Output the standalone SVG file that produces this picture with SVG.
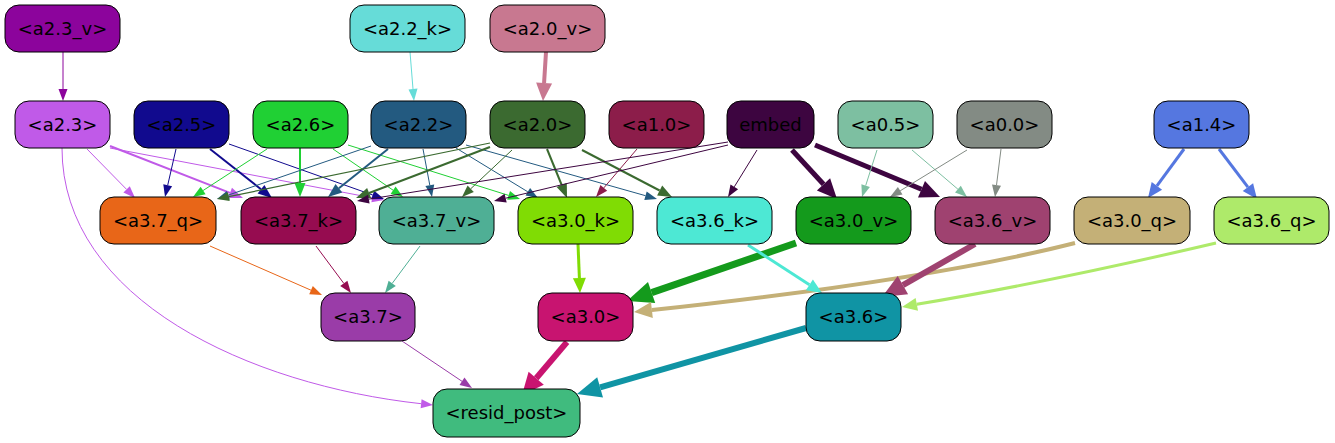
<svg xmlns="http://www.w3.org/2000/svg" width="1335" height="443" viewBox="0 0 1335 443">
<style>
.n rect{stroke:#000;stroke-width:1}
.n text{font-family:"DejaVu Sans",Verdana,sans-serif;font-size:18px;text-anchor:middle;fill:#000}
.e path{fill:none}
</style>
<rect width="1335" height="443" fill="#fff"/>
<g id="connectors">
<g class="e">
<path d="M63,52 L63,89" stroke="#8c049c" stroke-width="1"/><polygon points="63,101 67.5,89 58.5,89" fill="#8c049c"/>
<path d="M410,52 L413,89" stroke="#66dcd8" stroke-width="1"/><polygon points="414,101 408.5,89.4 417.5,88.6" fill="#66dcd8"/>
<path d="M546,52 L544.1,83" stroke="#c87890" stroke-width="4"/><polygon points="543,101 536.1,82.5 552.1,83.5" fill="#c87890"/>

<path d="M87,149 L126.6,189.4" stroke="#c05ae8" stroke-width="1"/><polygon points="135,198 123.4,192.6 129.8,186.3" fill="#c05ae8"/>
<path d="M110,146 L230,192.9" stroke="#c05ae8" stroke-width="2"/><polygon points="243,198 228,198 232,187.8" fill="#c05ae8"/>
<path d="M110,148 L372.2,197.8" stroke="#c05ae8" stroke-width="1"/><polygon points="384,200 371.4,202.2 373,193.4" fill="#c05ae8"/>
<path d="M62,148 C62,300 250,385 421.1,403.7" stroke="#c05ae8" stroke-width="1"/><polygon points="433,405 420.6,408.2 421.6,399.2" fill="#c05ae8"/>

<path d="M176,149 L167.7,185.3" stroke="#110a8e" stroke-width="1"/><polygon points="165,197 163.3,184.3 172.1,186.3" fill="#110a8e"/>
<path d="M210,149 L261,189.3" stroke="#110a8e" stroke-width="2"/><polygon points="272,198 257.6,193.6 264.4,185" fill="#110a8e"/>
<path d="M229,144 L372.7,195" stroke="#110a8e" stroke-width="1"/><polygon points="384,199 371.2,199.2 374.2,190.8" fill="#110a8e"/>

<path d="M267,149 L203.1,190.5" stroke="#20d034" stroke-width="1"/><polygon points="193,197 200.6,186.7 205.6,194.3" fill="#20d034"/>
<path d="M300,148 L300,183" stroke="#20d034" stroke-width="2"/><polygon points="300,197 305.5,183 294.5,183" fill="#20d034"/>
<path d="M333,149 L393.1,190.2" stroke="#20d034" stroke-width="1"/><polygon points="403,197 390.6,193.9 395.6,186.5" fill="#20d034"/>
<path d="M348,145 L508.6,195.4" stroke="#20d034" stroke-width="1"/><polygon points="520,199 507.2,199.7 510,191.1" fill="#20d034"/>

<path d="M371,146 L228.3,195.1" stroke="#235a80" stroke-width="1"/><polygon points="217,199 226.8,190.9 229.8,199.4" fill="#235a80"/>
<path d="M388,149 L338.9,188.3" stroke="#235a80" stroke-width="2"/><polygon points="328,197 335.5,184 342.3,192.6" fill="#235a80"/>
<path d="M423,149 L429.8,185.2" stroke="#235a80" stroke-width="1"/><polygon points="432,197 425.4,186 434.2,184.4" fill="#235a80"/>
<path d="M456,148 L527.8,191.8" stroke="#235a80" stroke-width="1"/><polygon points="538,198 525.5,195.6 530.1,187.9" fill="#235a80"/>
<path d="M466,145 L645.5,195.7" stroke="#235a80" stroke-width="1"/><polygon points="657,199 644.3,200 646.7,191.4" fill="#235a80"/>

<path d="M490,143 L228.8,196.6" stroke="#3b6a30" stroke-width="1.2"/><polygon points="217,199 227.9,192.2 229.7,201" fill="#3b6a30"/>
<path d="M490,147 L369.1,193" stroke="#3b6a30" stroke-width="2"/><polygon points="356,198 367.1,187.9 371.1,198.1" fill="#3b6a30"/>
<path d="M512,150 L470.7,188.8" stroke="#3b6a30" stroke-width="1"/><polygon points="462,197 467.6,185.5 473.8,192.1" fill="#3b6a30"/>
<path d="M547,149 L561.7,185" stroke="#3b6a30" stroke-width="2"/><polygon points="567,198 556.6,187.1 566.8,182.9" fill="#3b6a30"/>
<path d="M582,150 L659.6,190.5" stroke="#3b6a30" stroke-width="2"/><polygon points="672,197 657.1,195.4 662.2,185.6" fill="#3b6a30"/>

<path d="M637,149 L603.8,187.9" stroke="#8c1d4a" stroke-width="1"/><polygon points="596,197 600.4,185 607.2,190.8" fill="#8c1d4a"/>

<path d="M728,142 L368.9,199.1" stroke="#3d0540" stroke-width="1"/><polygon points="357,201 368.1,194.7 369.6,203.5" fill="#3d0540"/>
<path d="M728,145 L505.7,198.2" stroke="#3d0540" stroke-width="1"/><polygon points="494,201 504.6,193.8 506.7,202.6" fill="#3d0540"/>
<path d="M757,150 L734.3,186.8" stroke="#3d0540" stroke-width="1"/><polygon points="728,197 730.5,184.4 738.1,189.2" fill="#3d0540"/>
<path d="M792,150 L823.5,184.3" stroke="#3d0540" stroke-width="5"/><polygon points="837,199 816.9,190.4 830.1,178.2" fill="#3d0540"/>
<path d="M815,145 L921.5,189.3" stroke="#3d0540" stroke-width="5"/><polygon points="940,197 918,197.6 925,181" fill="#3d0540"/>

<path d="M877,150 L865.7,185.6" stroke="#7dbfa1" stroke-width="1"/><polygon points="862,197 861.4,184.2 869.9,187" fill="#7dbfa1"/>
<path d="M912,150 L957.9,189.2" stroke="#7dbfa1" stroke-width="1"/><polygon points="967,197 955,192.6 960.8,185.8" fill="#7dbfa1"/>
<path d="M967,150 L900.2,190.8" stroke="#838b84" stroke-width="1"/><polygon points="890,197 897.9,186.9 902.5,194.6" fill="#838b84"/>
<path d="M1001,149 L996.5,185.1" stroke="#838b84" stroke-width="1"/><polygon points="995,197 992,184.5 1001,185.7" fill="#838b84"/>

<path d="M1184,149 L1156.9,185.9" stroke="#5577e0" stroke-width="3"/><polygon points="1148,198 1151.7,182 1162.1,189.7" fill="#5577e0"/>
<path d="M1219,149 L1247.9,187.1" stroke="#5577e0" stroke-width="3"/><polygon points="1257,199 1242.7,191 1253.1,183.2" fill="#5577e0"/>

<path d="M210,246 L311,290.2" stroke="#e86618" stroke-width="1"/><polygon points="322,295 309.2,294.3 312.8,286.1" fill="#e86618"/>
<path d="M316,246 L343.8,283.4" stroke="#960c50" stroke-width="1"/><polygon points="351,293 340.2,286.1 347.4,280.7" fill="#960c50"/>
<path d="M420,246 L392.2,283.4" stroke="#4faf95" stroke-width="1"/><polygon points="385,293 388.6,280.7 395.8,286.1" fill="#4faf95"/>

<path d="M578,244 L579.4,278" stroke="#80dc04" stroke-width="3"/><polygon points="580,293 572.9,278.3 585.9,277.7" fill="#80dc04"/>
<path d="M796,243 L651.6,292.6" stroke="#149a1c" stroke-width="7"/><polygon points="627,301 648,282.1 655.2,303" fill="#149a1c"/>
<path d="M1075,243 Q930,280 651.9,310.1" stroke="#c4b077" stroke-width="4"/><polygon points="634,312 651,302.1 652.8,318" fill="#c4b077"/>

<path d="M748,245 L809.4,284.8" stroke="#4de8d4" stroke-width="3"/><polygon points="822,293 805.9,290.3 812.9,279.4" fill="#4de8d4"/>
<path d="M975,244 L902.9,285.1" stroke="#9f4270" stroke-width="6"/><polygon points="882,297 897.7,276 908.1,294.2" fill="#9f4270"/>
<path d="M1216,243 Q1050,282 916.8,304.3" stroke="#aeea6a" stroke-width="3"/><polygon points="902,307 915.6,297.9 918,310.7" fill="#aeea6a"/>

<path d="M402,341 L462,381.3" stroke="#9a3ca8" stroke-width="1"/><polygon points="472,388 459.5,385 464.5,377.6" fill="#9a3ca8"/>
<path d="M567,342 L536.2,378.2" stroke="#c81470" stroke-width="6"/><polygon points="522,395 528.6,371.7 543.8,384.7" fill="#c81470"/>
<path d="M806,328 L600.1,387.4" stroke="#1094a4" stroke-width="6"/><polygon points="577,394 597.2,377.3 603,397.4" fill="#1094a4"/>
</g>
</g>

<g id="a2.3_v" class="n"><rect x="5" y="5" width="115" height="47" rx="14" fill="#8c049c"/><text x="62.5" y="35">&lt;a2.3_v&gt;</text></g>
<g id="a2.2_k" class="n"><rect x="350" y="5" width="115" height="47" rx="14" fill="#66dcd8"/><text x="407.5" y="35">&lt;a2.2_k&gt;</text></g>
<g id="a2.0_v" class="n"><rect x="490" y="5" width="115" height="47" rx="14" fill="#c87890"/><text x="547.5" y="35">&lt;a2.0_v&gt;</text></g>

<g id="a2.3" class="n"><rect x="15" y="101" width="95" height="47" rx="14" fill="#c05ae8"/><text x="62.5" y="131">&lt;a2.3&gt;</text></g>
<g id="a2.5" class="n"><rect x="134" y="101" width="95" height="47" rx="14" fill="#110a8e"/><text x="181.5" y="131">&lt;a2.5&gt;</text></g>
<g id="a2.6" class="n"><rect x="253" y="101" width="95" height="47" rx="14" fill="#20d034"/><text x="300.5" y="131">&lt;a2.6&gt;</text></g>
<g id="a2.2" class="n"><rect x="371" y="101" width="95" height="47" rx="14" fill="#235a80"/><text x="418.5" y="131">&lt;a2.2&gt;</text></g>
<g id="a2.0" class="n"><rect x="490" y="101" width="95" height="47" rx="14" fill="#3b6a30"/><text x="537.5" y="131">&lt;a2.0&gt;</text></g>
<g id="a1.0" class="n"><rect x="609" y="101" width="95" height="47" rx="14" fill="#8c1d4a"/><text x="656.5" y="131">&lt;a1.0&gt;</text></g>
<g id="embed" class="n"><rect x="727" y="101" width="87" height="47" rx="14" fill="#3d0540"/><text x="770.5" y="131">embed</text></g>
<g id="a0.5" class="n"><rect x="838" y="101" width="95" height="47" rx="14" fill="#7dbfa1"/><text x="885.5" y="131">&lt;a0.5&gt;</text></g>
<g id="a0.0" class="n"><rect x="957" y="101" width="95" height="47" rx="14" fill="#838b84"/><text x="1004.5" y="131">&lt;a0.0&gt;</text></g>
<g id="a1.4" class="n"><rect x="1154" y="101" width="95" height="47" rx="14" fill="#5577e0"/><text x="1201.5" y="131">&lt;a1.4&gt;</text></g>

<g id="a3.7_q" class="n"><rect x="100" y="197" width="116" height="47" rx="14" fill="#e86618"/><text x="158" y="227">&lt;a3.7_q&gt;</text></g>
<g id="a3.7_k" class="n"><rect x="241" y="197" width="115" height="47" rx="14" fill="#960c50"/><text x="298.5" y="227">&lt;a3.7_k&gt;</text></g>
<g id="a3.7_v" class="n"><rect x="379" y="197" width="115" height="47" rx="14" fill="#4faf95"/><text x="436.5" y="227">&lt;a3.7_v&gt;</text></g>
<g id="a3.0_k" class="n"><rect x="518" y="197" width="115" height="47" rx="14" fill="#80dc04"/><text x="575.5" y="227">&lt;a3.0_k&gt;</text></g>
<g id="a3.6_k" class="n"><rect x="657" y="197" width="115" height="47" rx="14" fill="#4de8d4"/><text x="714.5" y="227">&lt;a3.6_k&gt;</text></g>
<g id="a3.0_v" class="n"><rect x="796" y="197" width="115" height="47" rx="14" fill="#149a1c"/><text x="853.5" y="227">&lt;a3.0_v&gt;</text></g>
<g id="a3.6_v" class="n"><rect x="935" y="197" width="115" height="47" rx="14" fill="#9f4270"/><text x="992.5" y="227">&lt;a3.6_v&gt;</text></g>
<g id="a3.0_q" class="n"><rect x="1074" y="197" width="116" height="47" rx="14" fill="#c4b077"/><text x="1132" y="227">&lt;a3.0_q&gt;</text></g>
<g id="a3.6_q" class="n"><rect x="1214" y="197" width="115" height="47" rx="14" fill="#aeea6a"/><text x="1271.5" y="227">&lt;a3.6_q&gt;</text></g>

<g id="a3.7" class="n"><rect x="321" y="293" width="94" height="48" rx="14" fill="#9a3ca8"/><text x="368" y="323">&lt;a3.7&gt;</text></g>
<g id="a3.0" class="n"><rect x="538" y="293" width="95" height="48" rx="14" fill="#c81470"/><text x="585.5" y="323">&lt;a3.0&gt;</text></g>
<g id="a3.6" class="n"><rect x="806" y="293" width="95" height="48" rx="14" fill="#1094a4"/><text x="853.5" y="323">&lt;a3.6&gt;</text></g>

<g id="resid_post" class="n"><rect x="433" y="389" width="147" height="48" rx="14" fill="#40bb7e"/><text x="506.5" y="419">&lt;resid_post&gt;</text></g>
</svg>
